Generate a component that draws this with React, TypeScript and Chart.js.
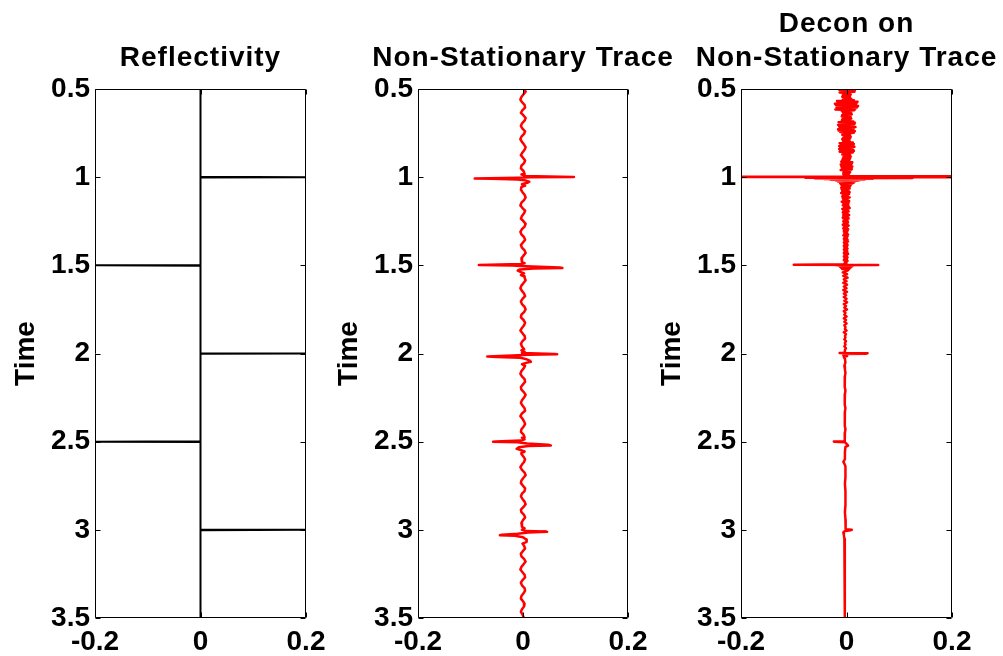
import React, { useEffect, useRef } from 'react';
import { Chart, registerables } from 'chart.js';

Chart.register(...registerables);

// ---------- tick labels ----------
const timeTicks = [0.5, 1, 1.5, 2, 2.5, 3, 3.5];
const timeTickLabels = ['0.5', '1', '1.5', '2', '2.5', '3', '3.5'];
const ampTicks = [-0.2, 0, 0.2];
const ampTickLabels = ['-0.2', '0', '0.2'];
const yAxisTitle = 'Time';

const titleReflectivity = ['Reflectivity'];
const titleTrace = ['Non-Stationary Trace'];
const titleDecon = ['Decon on', 'Non-Stationary Trace'];

// ---------- panel 1: reflectivity (spikes, zero elsewhere) ----------
const reflTimes = [1.0, 1.5, 2.0, 2.5, 3.0];
const reflValues = [0.2, -0.2, 0.2, -0.2, 0.2];
const reflStart = 0.5;
const reflEnd = 3.5;
const reflSampleStep = 0.002;

// ---------- panel 2: non-stationary trace ----------
const traceNoiseA = [0.002, 0.005, 0.001, -0.003, -0.005, -0.002, 0.003, 0.004, -0.001, -0.004, 0.001, 0.005, 0.003, -0.002, -0.004, -0.001, 0.004, 0.002, -0.003, -0.005, -0.002, 0.002, 0.005, 0.003, -0.001, -0.004, 0.000, 0.004, 0.002, -0.003, -0.004, 0.001, 0.003];
const traceNoiseB = [-0.004, -0.001, 0.003, 0.005, 0.002, -0.003, -0.005, -0.001, 0.004, 0.002, -0.002, -0.004, 0.001, 0.005, 0.003, -0.002, -0.005, -0.003, 0.002, 0.004, 0.000, -0.004, -0.002, 0.003, 0.005, 0.001, -0.003, -0.002];
const traceNoiseC = [0.003, 0.005, 0.001, -0.003, -0.005, -0.002, 0.002, 0.004, -0.001, -0.004, -0.002, 0.003, 0.005, 0.002, -0.003, -0.004, 0.001, 0.004, 0.002, -0.002, -0.005, -0.001, 0.003, 0.004, -0.001, -0.004, -0.002, 0.002];
const traceNoiseD = [0.004, 0.001, -0.003, -0.005, -0.002, 0.003, 0.004, 0.000, -0.004, -0.003, 0.002, 0.005, 0.002, -0.002, -0.004, -0.001, 0.003, 0.004, -0.002, -0.005, -0.001, 0.002, 0.004, 0.001, -0.003, -0.004, 0.001, 0.003];
const traceNoiseE = [-0.003, 0.001, 0.004, 0.002, -0.002, -0.005, -0.002, 0.003, 0.005, 0.001, -0.003, -0.004, 0.000, 0.004, 0.003, -0.002, -0.004, -0.001, 0.003, 0.005, 0.001, -0.004, -0.003, 0.002, 0.004, 0.000, -0.003, -0.002];
const traceNoiseF = [0.002, 0.004, 0.000, -0.004, -0.003, 0.002, 0.005, 0.001, -0.003, -0.005, -0.001, 0.003, 0.004, -0.001, -0.004, -0.002, 0.003, 0.004, 0.001, -0.003, -0.004, 0.000, 0.003, 0.002, -0.002, -0.004, -0.001, 0.001];
const traceNoiseStarts = [0.5, 1.07, 1.57, 2.07, 2.57, 3.09];
const traceNoiseStep = 0.015;
// wavelet events: [time, amplitude]
const traceEvent1 = [[0.985, -0.003], [0.99, 0.004], [0.994, 0.002], [0.9985, 0.097], [1.0005, 0.015], [1.003, -0.01], [1.007, -0.092], [1.0095, -0.06], [1.013, -0.01], [1.018, 0.004], [1.025, 0.012], [1.032, 0.008], [1.04, -0.002], [1.048, 0.004], [1.056, -0.003]];
const traceEvent2 = [[1.482, -0.002], [1.488, 0.003], [1.493, -0.004], [1.4975, -0.084], [1.5005, -0.02], [1.505, 0.005], [1.5125, 0.07], [1.5155, 0.075], [1.5185, 0.02], [1.523, -0.006], [1.53, -0.01], [1.538, -0.004], [1.546, 0.002], [1.555, -0.004], [1.562, 0.002]];
const traceEvent3 = [[1.982, -0.003], [1.99, 0.003], [1.997, -0.002], [2.0025, 0.06], [2.0045, 0.065], [2.007, 0.01], [2.012, -0.02], [2.017, -0.068], [2.0195, -0.05], [2.024, -0.005], [2.032, 0.006], [2.04, 0.013], [2.047, 0.015], [2.053, 0.006], [2.06, -0.002]];
const traceEvent4 = [[2.478, -0.002], [2.487, 0.003], [2.494, -0.004], [2.4985, -0.052], [2.5005, -0.057], [2.503, -0.01], [2.51, 0.008], [2.518, 0.048], [2.5215, 0.053], [2.525, 0.01], [2.532, -0.008], [2.54, -0.012], [2.548, -0.004], [2.556, 0.003], [2.563, -0.002]];
const traceEvent5 = [[2.983, -0.002], [2.992, 0.003], [3.0, -0.002], [3.007, 0.005], [3.0095, 0.042], [3.0115, 0.046], [3.015, 0.01], [3.022, -0.01], [3.0275, -0.04], [3.0305, -0.044], [3.034, -0.015], [3.042, 0.0], [3.055, 0.006], [3.068, 0.007], [3.078, -0.001]];

// ---------- panel 3: deconvolution result ----------
const deconNoiseA = [
  0.012, -0.014, 0.016, -0.010, 0.015, -0.013, 0.007, -0.006, 0.008, -0.007,
  0.006, -0.008, 0.007, -0.005, 0.009, -0.007, 0.014, -0.018, 0.021, -0.017,
  0.019, -0.022, 0.018, -0.020, 0.022, -0.016, 0.020, -0.019, 0.017, -0.021,
  0.015, -0.009, 0.008, -0.007, 0.009, -0.006, 0.010, -0.008, 0.007, -0.009,
  0.008, -0.006, 0.009, -0.008, 0.007, -0.009, 0.013, -0.015, 0.016, -0.012,
  0.015, -0.016, 0.012, -0.014, 0.017, -0.013, 0.014, -0.016, 0.013, -0.015,
  0.016, -0.012, 0.014, -0.007, 0.006, -0.008, 0.007, -0.005, 0.008, -0.006,
  0.007, -0.008, 0.005, -0.007, 0.006, -0.006, 0.012, -0.013, 0.014, -0.011,
  0.013, -0.014, 0.015, -0.012, 0.011, -0.014, 0.013, -0.012, 0.014, -0.013,
  0.012, -0.007, 0.006, -0.008, 0.007, -0.005, 0.008, -0.006, 0.007, -0.007,
  0.006, -0.008, 0.005, -0.010, 0.011, -0.009, 0.010, -0.011, 0.009, -0.010,
  0.011, -0.009, 0.010, -0.008, 0.010, -0.011, 0.006, -0.005, 0.007, -0.006,
  0.005, -0.006, 0.004,
];
const deconNoiseAStart = 0.5;
const deconNoiseAStep = 0.004;
const deconEvent1 = [[0.991, 0.004], [0.994, -0.004], [0.9965, 0.40], [0.998, -0.35], [0.9995, 0.30], [1.001, 0.0], [1.003, -0.078], [1.005, 0.125], [1.007, -0.06], [1.009, 0.05], [1.011, -0.042], [1.013, 0.035], [1.015, -0.03], [1.017, 0.025], [1.019, -0.02], [1.021, 0.02], [1.024, -0.016], [1.027, 0.015], [1.03, -0.012], [1.033, 0.013], [1.036, -0.012], [1.039, 0.01], [1.042, -0.01], [1.045, 0.008], [1.048, -0.009], [1.051, 0.007]];
const deconNoiseB = [
  0.005, -0.010, 0.006, -0.009, 0.004, -0.008, 0.006, -0.010, 0.005, -0.007,
  0.003, -0.008, 0.006, -0.007, 0.002, -0.006, 0.005, -0.009, 0.004, -0.006,
  0.003, -0.007, 0.004, -0.005, 0.006, -0.008, 0.003, -0.006, 0.004, -0.007,
  0.002, -0.006, 0.005, -0.006, 0.003, -0.007, 0.004, -0.005, 0.002, -0.006,
  0.003, -0.005, 0.002, -0.007, 0.004, -0.005, 0.001, -0.006, 0.003, -0.005,
  0.002, -0.005, 0.001, -0.004, 0.003, -0.006, 0.002, -0.004, 0.001, -0.005,
  0.002, -0.004, 0.003, -0.005, 0.001, -0.004, 0.002, -0.005, 0.001, -0.004,
  0.002, -0.005, 0.001, -0.004, 0.002, -0.005, 0.003, -0.004, 0.001, -0.005,
  0.002, -0.004, 0.001, -0.005, 0.002, -0.003, 0.000,
];
const deconNoiseBStart = 1.055;
const deconNoiseBStep = 0.005;
const deconEvent2 = [[1.49, -0.004], [1.494, 0.0], [1.4965, -0.10], [1.4985, 0.06], [1.5, -0.02], [1.502, 0.012], [1.504, -0.014], [1.506, 0.01], [1.509, -0.012], [1.512, 0.008], [1.515, -0.01], [1.518, 0.006], [1.521, -0.008], [1.524, 0.004]];
const deconNoiseC = [
  0.002, -0.007, 0.001, -0.006, 0.002, -0.005, 0.000, -0.006, 0.001, -0.005,
  0.000, -0.006, 0.001, -0.005, -0.001, -0.005, 0.000, -0.004, 0.001, -0.005,
  -0.001, -0.004, 0.001, -0.005, -0.002, -0.004, 0.000, -0.005, -0.001, -0.004,
  0.000, -0.004, -0.002, -0.003, 0.000, -0.005, -0.001, -0.003, -0.002, -0.004,
  -0.001, -0.003, -0.002, -0.004, -0.001, -0.003,
];
const deconNoiseCStart = 1.53;
const deconNoiseCStep = 0.01;
const deconEvent3 = [[1.99, -0.003], [1.995, -0.006], [1.9975, -0.013], [1.999, 0.04], [2.001, 0.036], [2.003, -0.004], [2.006, 0.002], [2.01, -0.006], [2.015, 0.001], [2.02, -0.005]];
const deconNoiseD = [-0.003, -0.002, -0.004, -0.003, -0.002, -0.003, -0.004, -0.003, -0.003, -0.002, -0.003, -0.004, -0.003, -0.003, -0.002, -0.003, -0.003, -0.004, -0.003, -0.003, -0.002, -0.003, -0.003];
const deconNoiseDStart = 2.03;
const deconNoiseDStep = 0.02;
const deconEvent4 = [[2.49, -0.003], [2.497, -0.004], [2.499, -0.024], [2.501, -0.022], [2.503, -0.003], [2.515, 0.001], [2.522, 0.003], [2.53, -0.002], [2.56, -0.003], [2.6, -0.003], [2.615, -0.006], [2.625, -0.004], [2.64, -0.002]];
const deconNoiseE = [-0.002, -0.002, -0.003, -0.002, -0.002, -0.002, -0.003, -0.002, -0.002];
const deconNoiseEStart = 2.66;
const deconNoiseEStep = 0.04;
const deconEvent5 = [[2.99, -0.002], [2.997, -0.001], [3.0, 0.01], [3.002, 0.008], [3.006, -0.003], [3.015, -0.006], [3.03, -0.005], [3.05, -0.004]];
const deconNoiseF = [-0.004, -0.003, -0.003, -0.003, -0.003];
const deconNoiseFStart = 3.1;
const deconNoiseFStep = 0.1;

// ---------- helpers ----------
type Pt = { x: number; y: number };
function fromGrid(t0: number, dt: number, values: number[]): Pt[] {
  return values.map((v, i) => ({ x: v, y: +(t0 + i * dt).toFixed(5) }));
}
function fromPairs(pairs: number[][]): Pt[] {
  return pairs.map(([t, v]) => ({ x: v, y: t }));
}

function reflectivityPoints(): Pt[] {
  const pts: Pt[] = [{ x: 0, y: reflStart }];
  reflTimes.forEach((t, i) => {
    pts.push({ x: 0, y: t - reflSampleStep });
    pts.push({ x: reflValues[i], y: t });
    pts.push({ x: 0, y: t + reflSampleStep });
  });
  pts.push({ x: 0, y: reflEnd });
  return pts;
}

function tracePoints(): Pt[] {
  const noise = [traceNoiseA, traceNoiseB, traceNoiseC, traceNoiseD, traceNoiseE, traceNoiseF];
  const events = [traceEvent1, traceEvent2, traceEvent3, traceEvent4, traceEvent5];
  let pts: Pt[] = [];
  noise.forEach((seg, i) => {
    pts = pts.concat(fromGrid(traceNoiseStarts[i], traceNoiseStep, seg));
    if (events[i]) pts = pts.concat(fromPairs(events[i]));
  });
  return pts.sort((a, b) => a.y - b.y);
}

function deconPoints(): Pt[] {
  const pts: Pt[] = [
    ...fromGrid(deconNoiseAStart, deconNoiseAStep, deconNoiseA),
    ...fromPairs(deconEvent1),
    ...fromGrid(deconNoiseBStart, deconNoiseBStep, deconNoiseB),
    ...fromPairs(deconEvent2),
    ...fromGrid(deconNoiseCStart, deconNoiseCStep, deconNoiseC),
    ...fromPairs(deconEvent3),
    ...fromGrid(deconNoiseDStart, deconNoiseDStep, deconNoiseD),
    ...fromPairs(deconEvent4),
    ...fromGrid(deconNoiseEStart, deconNoiseEStep, deconNoiseE),
    ...fromPairs(deconEvent5),
    ...fromGrid(deconNoiseFStart, deconNoiseFStep, deconNoiseF),
  ];
  return pts.sort((a, b) => a.y - b.y);
}

// ---------- layout ----------
const W = 1003;
const H = 656;
const FONT_FAMILY = '"Liberation Sans", Arial, Helvetica, sans-serif';
const FONT_SIZE = 28;
const Y_AXIS_W = 95;
const X_AXIS_H = 38;
const PLOT_TOP = 89;
const TITLE_BASELINE = 66;
const TITLE_LINE_GAP = 34;

const panels = [
  { left: 95, right: 306, title: titleReflectivity, color: '#000000', width: 2, points: reflectivityPoints },
  { left: 418, right: 628, title: titleTrace, color: '#ff0000', width: 2.5, points: tracePoints },
  { left: 741, right: 952, title: titleDecon, color: '#ff0000', width: 2.5, points: deconPoints },
];

const framePlugin = {
  id: 'panelFrame',
  afterDatasetsDraw(chart: any) {
    const { ctx, chartArea: a, scales } = chart;
    const l = Math.round(a.left) + 0.5;
    const r = Math.round(a.right) - 0.5;
    const t = Math.round(a.top) + 0.5;
    const b = Math.round(a.bottom) - 0.5;
    ctx.save();
    ctx.strokeStyle = '#000';
    ctx.lineWidth = 1;
    ctx.beginPath();
    ctx.rect(l, t, r - l, b - t);
    const tl = 5;
    timeTicks.forEach((v) => {
      const py = Math.round(scales.y.getPixelForValue(v)) + 0.5;
      ctx.moveTo(l, py);
      ctx.lineTo(l + tl, py);
      ctx.moveTo(r, py);
      ctx.lineTo(r - tl, py);
    });
    ampTicks.forEach((v) => {
      const px = Math.round(scales.x.getPixelForValue(v)) + 0.5;
      ctx.moveTo(px, b);
      ctx.lineTo(px, b - tl);
      ctx.moveTo(px, t);
      ctx.lineTo(px, t + tl);
    });
    ctx.stroke();
    ctx.restore();
  },
  afterDraw(chart: any, _args: any, opts: any) {
    const { ctx, chartArea: a } = chart;
    const lines: string[] = opts.lines || [];
    const cx = (a.left + a.right) / 2;
    ctx.save();
    ctx.fillStyle = '#000';
    ctx.font = `bold ${FONT_SIZE}px ${FONT_FAMILY}`;
    try {
      (ctx as any).letterSpacing = '1px';
    } catch (e) {
      /* ignore */
    }
    ctx.textAlign = 'center';
    ctx.textBaseline = 'alphabetic';
    lines.forEach((line, i) => {
      const y = TITLE_BASELINE - (lines.length - 1 - i) * TITLE_LINE_GAP;
      ctx.fillText(line, cx, y);
    });
    ctx.restore();
  },
};

function Panel({ idx }: { idx: number }) {
  const ref = useRef<HTMLCanvasElement | null>(null);
  useEffect(() => {
    const p = panels[idx];
    const font = { family: FONT_FAMILY, size: FONT_SIZE, weight: 'bold' as const };
    const chart = new Chart(ref.current as HTMLCanvasElement, {
      type: 'scatter',
      data: {
        datasets: [
          {
            data: p.points(),
            showLine: true,
            borderColor: p.color,
            backgroundColor: p.color,
            borderWidth: p.width,
            pointRadius: 0,
            pointHoverRadius: 0,
            pointHitRadius: 0,
            fill: false,
            tension: 0,
            borderJoinStyle: 'round',
            borderCapStyle: 'round',
          } as any,
        ],
      },
      options: {
        animation: false,
        responsive: false,
        events: [],
        layout: {
          padding: { left: p.left - Y_AXIS_W, right: W - p.right, top: PLOT_TOP, bottom: 0 },
        },
        plugins: {
          legend: { display: false },
          tooltip: { enabled: false },
          title: { display: false },
          panelFrame: { lines: p.title },
        } as any,
        scales: {
          x: {
            type: 'linear',
            min: -0.2,
            max: 0.2,
            afterBuildTicks: (s: any) => {
              s.ticks = ampTicks.map((v) => ({ value: v }));
            },
            afterFit: (s: any) => {
              s.height = X_AXIS_H;
            },
            ticks: {
              font,
              color: '#000',
              padding: 7,
              maxRotation: 0,
              autoSkip: false,
              callback: (_v: any, i: number) => ampTickLabels[i],
            },
            grid: { display: false, drawTicks: false },
            border: { display: false },
          },
          y: {
            type: 'linear',
            reverse: true,
            min: 0.5,
            max: 3.5,
            afterBuildTicks: (s: any) => {
              s.ticks = timeTicks.map((v) => ({ value: v }));
            },
            afterFit: (s: any) => {
              s.width = Y_AXIS_W;
            },
            ticks: {
              font,
              color: '#000',
              padding: 5,
              autoSkip: false,
              callback: (_v: any, i: number) => timeTickLabels[i],
            },
            title: {
              display: true,
              text: yAxisTitle,
              color: '#000',
              font,
              padding: { top: 9, bottom: 0 },
            },
            grid: { display: false, drawTicks: false },
            border: { display: false },
          },
        },
      } as any,
      plugins: [framePlugin],
    });
    return () => chart.destroy();
  }, [idx]);
  return (
    <canvas
      ref={ref}
      width={W}
      height={H}
      style={{ position: 'absolute', left: 0, top: 0, width: W, height: H }}
    />
  );
}

export default function App() {
  return (
    <div style={{ position: 'absolute', left: 0, top: 0, width: W, height: H, background: '#fff', overflow: 'hidden' }}>
      <Panel idx={0} />
      <Panel idx={1} />
      <Panel idx={2} />
    </div>
  );
}
